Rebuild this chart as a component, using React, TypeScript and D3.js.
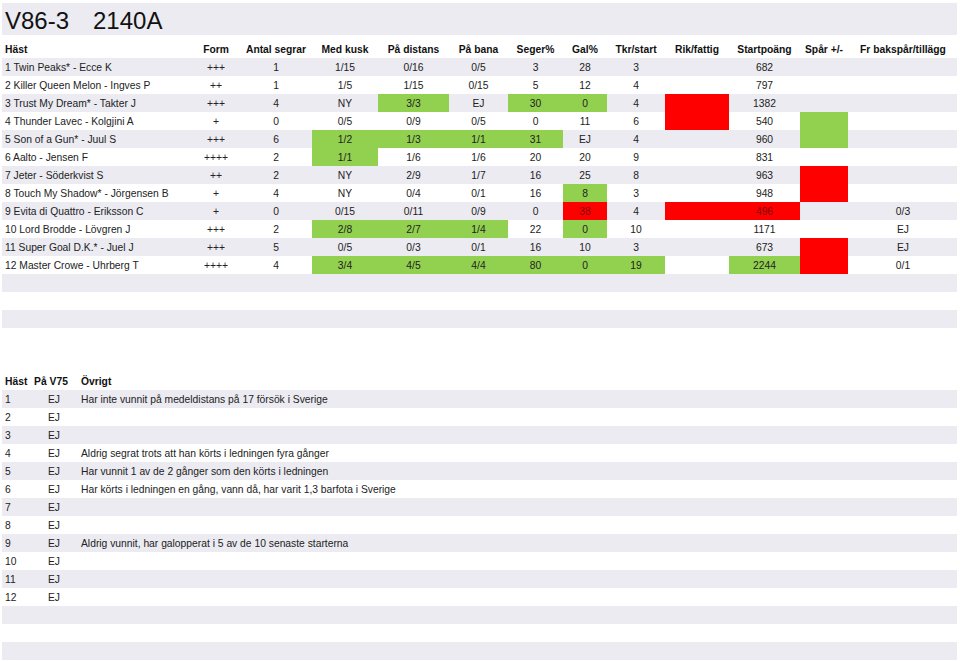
import React from "react";
import * as d3 from "d3";

const titleParts = ["V86-3", "2140A"];
const headers = ["Häst", "Form", "Antal segrar", "Med kusk", "På distans", "På bana", "Seger%", "Gal%", "Tkr/start", "Rik/fattig", "Startpoäng", "Spår +/-", "Fr bakspår/tillägg"];
const horses = ["1 Twin Peaks* - Ecce K", "2 Killer Queen Melon - Ingves P", "3 Trust My Dream* - Takter J", "4 Thunder Lavec - Kolgjini A", "5 Son of a Gun* - Juul S", "6 Aalto - Jensen F", "7 Jeter - Söderkvist S", "8 Touch My Shadow* - Jörgensen B", "9 Evita di Quattro - Eriksson C", "10 Lord Brodde - Lövgren J", "11 Super Goal D.K.* - Juel J", "12 Master Crowe - Uhrberg T"];
const form = ["+++", "++", "+++", "+", "+++", "++++", "++", "+", "+", "+++", "+++", "++++"];
const antalSegrar = ["1", "1", "4", "0", "6", "2", "2", "4", "0", "2", "5", "4"];
const medKusk = ["1/15", "1/5", "NY", "0/5", "1/2", "1/1", "NY", "NY", "0/15", "2/8", "0/5", "3/4"];
const paDistans = ["0/16", "1/15", "3/3", "0/9", "1/3", "1/6", "2/9", "0/4", "0/11", "2/7", "0/3", "4/5"];
const paBana = ["0/5", "0/15", "EJ", "0/5", "1/1", "1/6", "1/7", "0/1", "0/9", "1/4", "0/1", "4/4"];
const segerPct = ["3", "5", "30", "0", "31", "20", "16", "16", "0", "22", "16", "80"];
const galPct = ["28", "12", "0", "11", "EJ", "20", "25", "8", "38", "0", "10", "0"];
const tkrStart = ["3", "4", "4", "6", "4", "9", "8", "3", "4", "10", "3", "19"];
const rikFattig = ["", "", "", "", "", "", "", "", "", "", "", ""];
const startpoang = ["682", "797", "1382", "540", "960", "831", "963", "948", "496", "1171", "673", "2244"];
const sparPm = ["", "", "", "", "", "", "", "", "", "", "", ""];
const frBakspar = ["", "", "", "", "", "", "", "", "0/3", "EJ", "EJ", "0/1"];

// highlight flags per column: g = green, r = red
const hlMedKusk = ["", "", "", "", "g", "g", "", "", "", "g", "", "g"];
const hlPaDistans = ["", "", "g", "", "g", "", "", "", "", "g", "", "g"];
const hlPaBana = ["", "", "", "", "g", "", "", "", "", "g", "", "g"];
const hlSeger = ["", "", "g", "", "g", "", "", "", "", "", "", "g"];
const hlGal = ["", "", "g", "", "", "", "", "g", "r", "g", "", "g"];
const hlTkr = ["", "", "", "", "", "", "", "", "", "", "", "g"];
const hlRik = ["", "", "r", "r", "", "", "", "", "r", "", "", ""];
const hlStart = ["", "", "", "", "", "", "", "", "r", "", "", "g"];
const hlSpar = ["", "", "", "g", "g", "", "r", "r", "", "", "r", "r"];
const hlNone = ["", "", "", "", "", "", "", "", "", "", "", ""];

const v75Header = ["Häst", "På V75", "Övrigt"];
const v75Nums = ["1", "2", "3", "4", "5", "6", "7", "8", "9", "10", "11", "12"];
const paV75 = ["EJ", "EJ", "EJ", "EJ", "EJ", "EJ", "EJ", "EJ", "EJ", "EJ", "EJ", "EJ"];
const ovrigt = [
  "Har inte vunnit på medeldistans på 17 försök i Sverige",
  "",
  "",
  "Aldrig segrat trots att han körts i ledningen fyra gånger",
  "Har vunnit 1 av de 2 gånger som den körts i ledningen",
  "Har körts i ledningen en gång, vann då, har varit 1,3 barfota i Sverige",
  "",
  "",
  "Aldrig vunnit, har galopperat i 5 av de 10 senaste starterna",
  "",
  "",
  "",
];

const columns = [form, antalSegrar, medKusk, paDistans, paBana, segerPct, galPct, tkrStart, rikFattig, startpoang, sparPm, frBakspar];
const highlights = [hlNone, hlNone, hlMedKusk, hlPaDistans, hlPaBana, hlSeger, hlGal, hlTkr, hlRik, hlStart, hlSpar, hlNone];
const colEdges = [186, 246, 312, 378, 449, 508, 563, 607, 665, 729, 800, 848, 958];
const antalEdges = [240, 312];

const W = 960;
const H = 661;
const GRAY = "#ebebf1";
const GREEN = "#92d050";
const RED = "#ff0000";
const FONT = "'Liberation Sans', Arial, Helvetica, sans-serif";
const FS = 10.3;

export default function App() {
  const rowH = 18;
  const topBands = d3.range(15);
  const yTop = d3.scaleLinear().domain([0, 1]).range([58, 58 + rowH]);
  const yBot = d3.scaleLinear().domain([0, 1]).range([390, 390 + rowH]);
  const fill = d3.scaleOrdinal<string, string>().domain(["g", "r"]).range([GREEN, RED]);
  const textFill = (h: string) => (h === "r" ? "#7a0c0c" : "#222");

  const colX0 = (c: number) => (c === 1 ? antalEdges[0] : colEdges[c]);
  const colX1 = (c: number) => (c === 1 ? antalEdges[1] : colEdges[c + 1]);
  const colCx = (c: number) => (colX0(c) + colX1(c)) / 2;

  return (
    <svg width={W} height={H} style={{ position: "absolute", left: 0, top: 0, background: "#fff" }} fontFamily={FONT}>
      <rect x={0} y={0} width={W} height={H} fill="#fff" />
      {/* title band */}
      <rect x={2} y={3} width={955} height={32} fill={GRAY} />
      <text x={5} y={28.5} fontSize={24} fill="#111">{titleParts[0]}</text>
      <text x={93} y={28.5} fontSize={24} fill="#111">{titleParts[1]}</text>

      {/* top table bands */}
      {topBands.map((i) => (
        <rect key={"b" + i} x={2} y={yTop(i)} width={955} height={rowH} fill={i % 2 === 0 ? GRAY : "#fff"} />
      ))}
      {/* header */}
      {headers.map((h, i) =>
        i === 0 ? (
          <text key={"h" + i} x={5} y={yTop(-1) + 12.8} fontSize={FS} fontWeight="bold" fill="#111">{h}</text>
        ) : (
          <text key={"h" + i} x={colCx(i - 1)} y={yTop(-1) + 12.8} fontSize={FS} fontWeight="bold" fill="#111" textAnchor="middle">{h}</text>
        )
      )}
      {/* cells */}
      {horses.map((name, r) => (
        <g key={"r" + r}>
          <text x={5} y={yTop(r) + 12.8} fontSize={FS} fill="#222">{name}</text>
          {columns.map((col, c) => {
            const h = highlights[c][r];
            return (
              <g key={"c" + c}>
                {h && <rect x={colX0(c)} y={yTop(r)} width={colX1(c) - colX0(c)} height={rowH} fill={fill(h)} />}
                {col[r] && (
                  <text x={colCx(c)} y={yTop(r) + 12.8} fontSize={FS} fill={textFill(h)} textAnchor="middle">{col[r]}</text>
                )}
              </g>
            );
          })}
        </g>
      ))}

      {/* bottom table */}
      {topBands.map((i) => (
        <rect key={"bb" + i} x={2} y={yBot(i)} width={955} height={rowH} fill={i % 2 === 0 ? GRAY : "#fff"} />
      ))}
      <text x={5} y={yBot(-1) + 12.8} fontSize={FS} fontWeight="bold" fill="#111">{v75Header[0]}</text>
      <text x={51} y={yBot(-1) + 12.8} fontSize={FS} fontWeight="bold" fill="#111" textAnchor="middle">{v75Header[1]}</text>
      <text x={81} y={yBot(-1) + 12.8} fontSize={FS} fontWeight="bold" fill="#111">{v75Header[2]}</text>
      {v75Nums.map((n, r) => (
        <g key={"v" + r}>
          <text x={5} y={yBot(r) + 12.8} fontSize={FS} fill="#222">{n}</text>
          <text x={54} y={yBot(r) + 12.8} fontSize={FS} fill="#222" textAnchor="middle">{paV75[r]}</text>
          {ovrigt[r] && <text x={81} y={yBot(r) + 12.8} fontSize={FS} fill="#222">{ovrigt[r]}</text>}
        </g>
      ))}
    </svg>
  );
}
